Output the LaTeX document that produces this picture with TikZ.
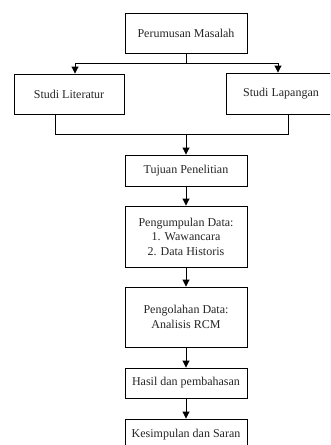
\documentclass[tikz,border=0pt]{standalone}
\usepackage{fontspec}
\setmainfont{Liberation Serif}
\usetikzlibrary{arrows.meta,calc}
\begin{document}
\begin{tikzpicture}[x=1pt,y=-1pt,
  box/.style={draw=black, line width=0.9pt, fill=white, text=black!85, align=center,
    inner sep=2pt, font=\fontsize{12}{14.5}\selectfont},
  ln/.style={draw=black, line width=0.9pt},
  arr/.style={ln, -{Triangle[width=7pt,length=7pt]}}]
\useasboundingbox (0,0) rectangle (330,445);
\clip (0,0) rectangle (330,445);
\node[box, minimum width=122pt, minimum height=40pt] (pm) at (186,33) {Perumusan Masalah};
\node[box, minimum width=110pt, minimum height=40pt] (sl) at (69,94) {Studi Literatur};
\node[box, minimum width=110pt, minimum height=41pt] (sp) at (281,93.5) {Studi Lapangan};
\node[box, minimum width=122pt, minimum height=31pt] (tp) at (186,170.5) {Tujuan Penelitian};
\node[box, minimum width=122pt, minimum height=61pt] (pd) at (186,236.5) {Pengumpulan Data:\\1. Wawancara\\2. Data Historis};
\node[box, minimum width=122pt, minimum height=60pt] (po) at (186,317) {Pengolahan Data:\\Analisis RCM};
\node[box, minimum width=122pt, minimum height=30pt] (hp) at (186,383) {Hasil dan pembahasan};
\node[box, minimum width=122pt, minimum height=31pt] (ks) at (186,434.5) {Kesimpulan dan Saran};
\coordinate (j1) at (186,63);
\coordinate (j2) at (186,134);
\draw[ln] (pm.south) -- (j1);
\draw[arr] (j1) -| ($(sl.north)+(6,0)$);
\draw[arr] (j1) -| ($(sp.north)+(-3,0)$);
\draw[ln] ($(sl.south)+(-14,0)$) |- (j2);
\draw[ln] ($(sp.south)+(7,0)$) |- (j2);
\draw[arr] (j2) -- (tp.north);
\draw[arr] (tp.south) -- (pd.north);
\draw[arr] (pd.south) -- (po.north);
\draw[arr] (po.south) -- (hp.north);
\draw[arr] (hp.south) -- (ks.north);
\end{tikzpicture}
\end{document}
